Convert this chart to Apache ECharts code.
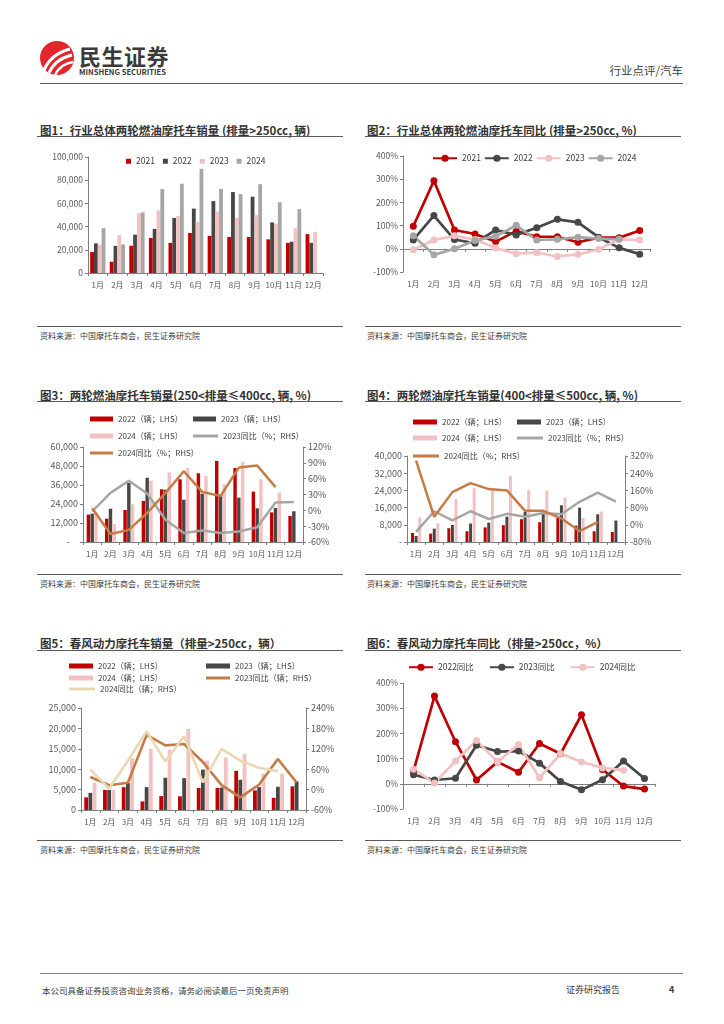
<!DOCTYPE html>
<html><head><meta charset="utf-8">
<script src="https://cdn.jsdelivr.net/npm/echarts@6/dist/echarts.min.js"></script>
<style>
body{margin:0;background:#fff;font-family:'Noto Sans CJK SC','Noto Sans',sans-serif;}
#page{position:relative;width:724px;height:1024px;overflow:hidden;background:#fff;}
.t{position:absolute;white-space:nowrap;line-height:14px;}
.title{font-size:11.5px;font-weight:bold;color:#333;}
.rule{position:absolute;height:0;border-top:1.5px solid #595959;}
.src{font-size:8px;color:#404040;}
.chart{position:absolute;}
</style></head>
<body><div id="page">
<svg class="t" style="left:39px;top:40px" width="36" height="36" viewBox="0 0 36 36">
<circle cx="18" cy="18" r="17" fill="#E2262B"/>
<path d="M5,30 Q12,14 31,9" stroke="#fff" stroke-width="3.2" fill="none"/>
<path d="M10,33 Q16,19 33,15" stroke="#fff" stroke-width="3" fill="none"/>
<path d="M16,35 Q21,24 34,22" stroke="#fff" stroke-width="2.6" fill="none"/>
</svg>
<div class="t" style="left:79px;top:42px;font-size:22px;line-height:26px;font-weight:bold;color:#3a3a3a;letter-spacing:0.5px">民生证券</div>
<div class="t" style="left:79px;top:67px;font-size:7.6px;line-height:9px;font-weight:bold;color:#3a3a3a;">MINSHENG SECURITIES</div>
<div class="t" style="right:41px;top:63px;font-size:11.5px;color:#404040;">行业点评/汽车</div>
<div class="rule" style="left:40px;top:83px;width:643px;"></div>

<div class="t title" style="left:40px;top:123px">图1：行业总体两轮燃油摩托车销量 (排量&gt;250cc, 辆)</div>
<div class="rule" style="left:37px;top:136px;width:306px;"></div>
<div class="t title" style="left:367px;top:123px">图2：行业总体两轮燃油摩托车同比 (排量&gt;250cc, %)</div>
<div class="rule" style="left:365px;top:136px;width:316px;"></div>
<div class="rule" style="left:37px;top:326px;width:306px;"></div>
<div class="rule" style="left:365px;top:326px;width:316px;"></div>
<div class="t src" style="left:40px;top:329px">资料来源：中国摩托车商会，民生证券研究院</div>
<div class="t src" style="left:367px;top:329px">资料来源：中国摩托车商会，民生证券研究院</div>

<div class="t title" style="left:40px;top:388px">图3：两轮燃油摩托车销量(250&lt;排量≤400cc, 辆, %)</div>
<div class="rule" style="left:37px;top:401px;width:306px;"></div>
<div class="t title" style="left:367px;top:388px">图4：两轮燃油摩托车销量(400&lt;排量≤500cc, 辆, %)</div>
<div class="rule" style="left:365px;top:401px;width:316px;"></div>
<div class="rule" style="left:37px;top:574px;width:306px;"></div>
<div class="rule" style="left:365px;top:574px;width:316px;"></div>
<div class="t src" style="left:40px;top:577px">资料来源：中国摩托车商会，民生证券研究院</div>
<div class="t src" style="left:367px;top:577px">资料来源：中国摩托车商会，民生证券研究院</div>

<div class="t title" style="left:40px;top:636px">图5：春风动力摩托车销量（排量&gt;250cc，辆）</div>
<div class="rule" style="left:37px;top:650px;width:306px;"></div>
<div class="t title" style="left:367px;top:636px">图6：春风动力摩托车同比（排量&gt;250cc，%）</div>
<div class="rule" style="left:365px;top:650px;width:316px;"></div>
<div class="rule" style="left:37px;top:840px;width:306px;"></div>
<div class="rule" style="left:365px;top:840px;width:316px;"></div>
<div class="t src" style="left:40px;top:843px">资料来源：中国摩托车商会，民生证券研究院</div>
<div class="t src" style="left:367px;top:843px">资料来源：中国摩托车商会，民生证券研究院</div>

<div style="position:absolute;left:40px;top:973px;width:643px;border-top:1px solid #7f7f7f"></div>
<div class="t" style="left:42px;top:983px;font-size:8.5px;color:#404040">本公司具备证券投资咨询业务资格，请务必阅读最后一页免责声明</div>
<div class="t" style="left:566px;top:983px;font-size:9px;color:#404040">证券研究报告</div>
<div class="t" style="left:669px;top:983px;font-size:9px;font-weight:bold;color:#404040">4</div>

<div id="c1" class="chart" style="left:37px;top:140px;width:306px;height:186px"></div>
<div id="c2" class="chart" style="left:365px;top:140px;width:316px;height:186px"></div>
<div id="c3" class="chart" style="left:37px;top:405px;width:306px;height:168px"></div>
<div id="c4" class="chart" style="left:365px;top:405px;width:316px;height:168px"></div>
<div id="c5" class="chart" style="left:37px;top:655px;width:306px;height:183px"></div>
<div id="c6" class="chart" style="left:365px;top:655px;width:316px;height:183px"></div>
</div>
<script>
const months = ['1月','2月','3月','4月','5月','6月','7月','8月','9月','10月','11月','12月'];

// Chart 1: 销量 (辆)
const c1_2021 = [18000, 9700, 23500, 30200, 26000, 34500, 32000, 31000, 31000, 29000, 26000, 33500];
const c1_2022 = [25500, 23400, 33000, 38000, 47500, 55500, 62000, 69800, 65800, 43600, 27000, 26000];
const c1_2023 = [24300, 32600, 51500, 54000, 49000, 44000, 53000, 47500, 50000, 42600, 38600, 35400];
const c1_2024 = [38600, 24600, 52300, 72300, 77000, 89800, 72500, 68000, 76600, 60900, 55000, null];

// Chart 2: 同比 (%)
const c2_2021 = [97, 293, 81, 64, 31, 76, 52, 52, 28, 48, 48, 79];
const c2_2022 = [38, 143, 40, 24, 81, 60, 91, 127, 114, 50, 4, -23];
const c2_2023 = [-4, 38, 56, 40, 3, -21, -16, -33, -24, -3, 41, 38];
const c2_2024 = [56, -26, 0, 36, 54, 101, 38, 41, 50, 44, 41, null];

// Chart 3: 250<排量≤400cc
const c3_2022 = [17300, 14700, 20200, 25900, 33300, 39600, 43400, 51200, 46700, 31800, 18700, 16400];
const c3_2023 = [17900, 21000, 37300, 40600, 33000, 26700, 30500, 29900, 28000, 21300, 21500, 19400];
const c3_2024 = [18600, 11400, 23800, 38700, 44000, 46700, 41700, 36400, 50700, 39600, 31200, null];
const c3_yoy2023 = [-2, 33, 56, 32, -18, -43, -38, -43, -40, -32, 15, 16];
const c3_yoy2024 = [4, -45, -37, -5, 33, 74, 35, 27, 81, 85, 44, null];

// Chart 4: 400<排量≤500cc
const c4_2022 = [4200, 3900, 6400, 5000, 6800, 7800, 10600, 9200, 11200, 7600, 5000, 4700];
const c4_2023 = [2800, 6200, 7900, 8600, 9000, 11800, 14000, 13200, 17100, 16000, 12900, 10000];
const c4_2024 = [11400, 8700, 19900, 25000, 24900, 30700, 24100, 24000, 20700, 11200, 14200, null];
const c4_yoy2023 = [-33, 63, 21, 63, 27, 51, 37, 55, 49, 107, 150, 108];
const c4_yoy2024 = [298, 37, 152, 194, 166, 160, 65, 65, 29, -29, 12, null];

// Chart 5: 春风动力销量
const c5_2022 = [3100, 4900, 5600, 2100, 3400, 3350, 5400, 5400, 9600, 4800, 3000, 5800];
const c5_2023 = [4200, 4900, 6600, 5600, 7900, 7800, 9900, 5500, 7400, 5600, 5700, 7000];
const c5_2024 = [6700, 4900, 12700, 15000, 14800, 19900, 12100, 12900, 13800, 8900, 8900, null];
const c5_yoy2023 = [37, 13, 20, 161, 130, 134, 81, 13, -23, 15, 90, 21];
const c5_yoy2024 = [59, 3, 85, 171, 83, 157, 21, 120, 85, 64, 54, null];

// Chart 6: 春风动力同比
const c6_2022 = [50, 348, 167, 15, 87, 46, 160, 119, 274, 57, -9, -21];
const c6_2023 = [36, 15, 22, 153, 128, 130, 82, 9, -24, 16, 90, 21];
const c6_2024 = [58, 3, 90, 172, 87, 156, 24, 120, 87, 63, 54, null];

// axis ranges (min, max, interval)
const c1_yRange = [0, 100000, 20000];
const c2_yRange = [-100, 400, 100];
const c3_lRange = [0, 60000, 12000];
const c3_rRange = [-60, 120, 30];
const c4_lRange = [0, 40000, 8000];
const c4_rRange = [-80, 320, 80];
const c5_lRange = [0, 25000, 5000];
const c5_rRange = [-60, 240, 60];
const c6_yRange = [-100, 400, 100];

const RED = '#C00000', DARK = '#474747', PINK = '#F2C2C2', GRAY = '#A6A6A6', BROWN = '#C57B45', BEIGE = '#EAD8B2';
const AX = '#7f7f7f', LB = '#595959', LG = '#404040';
const FF = "'Noto Sans CJK SC','Noto Sans',sans-serif";

function thou(v){ return v.toLocaleString('en-US'); }
function dashZero(v){ return v === 0 ? '-' : thou(v); }
function dashZeroPad(v){ return v === 0 ? '-\u00a0\u00a0\u00a0\u00a0' : thou(v); }
function pct(v){ return v + '%'; }

function valAxis(r, pos, fmt, fs){
  return {type:'value', position:pos, min:r[0], max:r[1], interval:r[2],
    axisLine:{show:true, onZero:false, lineStyle:{color:AX, width:1}},
    axisTick:{show:true, length:3, lineStyle:{color:AX}},
    splitLine:{show:false},
    axisLabel:{fontSize:fs, color:LB, margin:5, formatter:fmt, fontFamily:FF}};
}
function catAxis(onZero, showLabel, fs){
  return {type:'category', data:months, position:'bottom',
    axisLine:{show:true, onZero:onZero, lineStyle:{color:AX, width:1}},
    axisTick:{show:true, length:3, lineStyle:{color:AX}},
    axisLabel:{show:showLabel, interval:0, fontSize:fs, color:LB, margin:8, fontFamily:FF}};
}
function labelAxis(fs){
  return {type:'category', data:months, position:'bottom',
    axisLine:{show:false, onZero:false}, axisTick:{show:false},
    axisLabel:{interval:0, fontSize:fs, color:LB, margin:8, fontFamily:FF}};
}
function bar(name, data, color, gap, catGap){
  return {name:name, type:'bar', data:data, yAxisIndex:0, itemStyle:{color:color}, barGap:gap, barCategoryGap:catGap};
}
function line(name, data, color, w, yIdx){
  return {name:name, type:'line', data:data, yAxisIndex:yIdx, showSymbol:false, symbol:'none',
    lineStyle:{color:color, width:w}, itemStyle:{color:color}, z:5};
}
function dotLine(name, data, color){
  return {name:name, type:'line', data:data, symbol:'circle', symbolSize:7,
    lineStyle:{color:color, width:2.7}, itemStyle:{color:color}};
}
function leg(name, left, top, isLine, w){
  return {data:[name], left:left, top:top, icon:'rect', itemWidth:w||23, itemHeight:isLine?3:5,
    textStyle:{fontSize:8, color:LG, fontFamily:FF}, selectedMode:false, padding:0};
}

function mk(id, opt){
  const c = echarts.init(document.getElementById(id), null, {renderer:'canvas'});
  opt.animation = false;
  opt.textStyle = {fontFamily:FF};
  c.setOption(opt);
}

// Chart 1
mk('c1', {
  grid:{left:51, right:20, top:17, bottom:53},
  legend:{left:89, top:17, icon:'rect', itemWidth:5, itemHeight:5, itemGap:8, padding:0, selectedMode:false,
    textStyle:{fontSize:8.5, color:LG}, data:['2021','2022','2023','2024']},
  xAxis: catAxis(false, true, 8),
  yAxis: valAxis(c1_yRange, 'left', thou, 8.5),
  series:[
    bar('2021', c1_2021, RED, '0%', '22%'),
    bar('2022', c1_2022, DARK, '0%', '22%'),
    bar('2023', c1_2023, PINK, '0%', '22%'),
    bar('2024', c1_2024, GRAY, '0%', '22%')
  ]
});

// Chart 2
mk('c2', {
  grid:{left:38, right:31, top:16, bottom:54},
  legend:{left:67, top:14, itemWidth:24, itemHeight:9, itemGap:3, padding:0, selectedMode:false,
    textStyle:{fontSize:8.5, color:LG}, data:['2021','2022','2023','2024']},
  xAxis:[catAxis(true, false, 8), labelAxis(8)],
  yAxis: valAxis(c2_yRange, 'left', pct, 8.5),
  series:[
    dotLine('2021', c2_2021, RED),
    dotLine('2022', c2_2022, DARK),
    dotLine('2023', c2_2023, PINK),
    dotLine('2024', c2_2024, GRAY)
  ]
});

// Chart 3
mk('c3', {
  grid:{left:46, right:40, top:42, bottom:31},
  legend:[
    leg('2022（辆；LHS）', 53, 10, false),
    leg('2023（辆；LHS）', 156, 10, false),
    leg('2024（辆；LHS）', 53, 27, false),
    leg('2023同比（%；RHS）', 156, 27, true, 25),
    leg('2024同比（%；RHS）', 53, 44, true)
  ],
  xAxis: catAxis(false, true, 8),
  yAxis:[valAxis(c3_lRange, 'left', dashZeroPad, 9), valAxis(c3_rRange, 'right', pct, 9)],
  series:[
    bar('2022（辆；LHS）', c3_2022, RED, '10%', '40%'),
    bar('2023（辆；LHS）', c3_2023, DARK, '10%', '40%'),
    bar('2024（辆；LHS）', c3_2024, PINK, '10%', '40%'),
    line('2023同比（%；RHS）', c3_yoy2023, GRAY, 2.5, 1),
    line('2024同比（%；RHS）', c3_yoy2024, BROWN, 2.5, 1)
  ]
});

// Chart 4
mk('c4', {
  grid:{left:42, right:56, top:51, bottom:31},
  legend:[
    leg('2022（辆；LHS）', 48, 13, false, 24),
    leg('2023（辆；LHS）', 152, 13, false, 24),
    leg('2024（辆；LHS）', 48, 29, false, 24),
    leg('2023同比（%；RHS）', 152, 29, true, 26),
    leg('2024同比（%；RHS）', 48, 47, true, 26)
  ],
  xAxis: catAxis(false, true, 8),
  yAxis:[valAxis(c4_lRange, 'left', dashZero, 9), valAxis(c4_rRange, 'right', pct, 9)],
  series:[
    bar('2022（辆；LHS）', c4_2022, RED, '20%', '44%'),
    bar('2023（辆；LHS）', c4_2023, DARK, '20%', '44%'),
    bar('2024（辆；LHS）', c4_2024, PINK, '20%', '44%'),
    line('2023同比（%；RHS）', c4_yoy2023, GRAY, 2.5, 1),
    line('2024同比（%；RHS）', c4_yoy2024, BROWN, 2.5, 1)
  ]
});

// Chart 5
mk('c5', {
  grid:{left:44, right:37, top:53, bottom:28},
  legend:[
    leg('2022（辆；LHS）', 32, 7, false, 24),
    leg('2023（辆；LHS）', 169, 7, false, 24),
    leg('2024（辆；LHS）', 32, 19, false, 24),
    leg('2023同比（辆；RHS）', 169, 19, true, 24),
    leg('2024同比（辆；RHS）', 32, 30, true, 26)
  ],
  xAxis: catAxis(false, true, 8),
  yAxis:[valAxis(c5_lRange, 'left', thou, 9), valAxis(c5_rRange, 'right', pct, 9)],
  series:[
    bar('2022（辆；LHS）', c5_2022, RED, '10%', '35%'),
    bar('2023（辆；LHS）', c5_2023, DARK, '10%', '35%'),
    bar('2024（辆；LHS）', c5_2024, PINK, '10%', '35%'),
    line('2023同比（辆；RHS）', c5_yoy2023, BROWN, 2.6, 1),
    line('2024同比（辆；RHS）', c5_yoy2024, BEIGE, 2.6, 1)
  ]
});

// Chart 6
mk('c6', {
  grid:{left:38, right:26, top:28, bottom:29},
  legend:{left:43, top:8, itemWidth:24, itemHeight:9, itemGap:15, padding:0, selectedMode:false,
    textStyle:{fontSize:8.5, color:LG}, data:['2022同比','2023同比','2024同比']},
  xAxis:[catAxis(true, false, 8), labelAxis(8)],
  yAxis: valAxis(c6_yRange, 'left', pct, 8.5),
  series:[
    dotLine('2022同比', c6_2022, RED),
    dotLine('2023同比', c6_2023, DARK),
    dotLine('2024同比', c6_2024, PINK)
  ]
});
</script>
</body></html>
